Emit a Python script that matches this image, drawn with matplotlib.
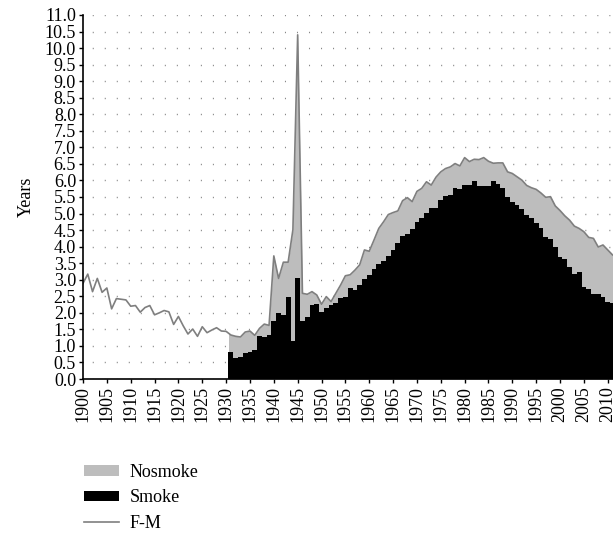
import numpy as np
import matplotlib
matplotlib.use("Agg")
import matplotlib.pyplot as plt
from matplotlib.patches import Patch
from matplotlib.lines import Line2D

# F-M gap in life expectancy, 1900-2011
fm_years = list(range(1900, 2012))
fm = [2.89, 3.17, 2.64, 3.04, 2.62, 2.75, 2.12, 2.43, 2.41, 2.39,
      2.20, 2.22, 2.02, 2.16, 2.22, 1.94, 2.00, 2.07, 2.03, 1.65,
      1.89, 1.61, 1.36, 1.51, 1.29, 1.58, 1.40, 1.48, 1.55, 1.45,
      1.44, 1.33, 1.29, 1.27, 1.42, 1.45, 1.32, 1.53, 1.66, 1.62,
      3.72, 3.04, 3.53, 3.53, 4.51, 10.40, 2.59, 2.56, 2.64, 2.54,
      2.26, 2.49, 2.34, 2.59, 2.84, 3.12, 3.15, 3.29, 3.45, 3.90,
      3.86, 4.20, 4.55, 4.75, 4.97, 5.03, 5.08, 5.39, 5.48, 5.36,
      5.67, 5.76, 5.96, 5.86, 6.10, 6.26, 6.36, 6.41, 6.51, 6.44,
      6.69, 6.57, 6.64, 6.63, 6.69, 6.58, 6.52, 6.53, 6.53, 6.26,
      6.21, 6.11, 6.01, 5.85, 5.78, 5.73, 5.62, 5.49, 5.51, 5.23,
      5.09, 4.93, 4.80, 4.62, 4.55, 4.45, 4.28, 4.25, 3.99, 4.05,
      3.90, 3.75]

# smoking-attributable part, 1931-2011
smoke_years = list(range(1931, 2012))
smoke = [0.81, 0.64, 0.67, 0.78, 0.83, 0.88, 1.30, 1.26, 1.33,
         1.76, 2.00, 1.93, 2.47, 1.16, 3.04, 1.76, 1.87, 2.25, 2.26,
         2.04, 2.14, 2.24, 2.29, 2.46, 2.47, 2.76, 2.69, 2.84, 3.01,
         3.14, 3.33, 3.48, 3.56, 3.73, 3.89, 4.12, 4.32, 4.38, 4.52,
         4.73, 4.88, 5.02, 5.18, 5.18, 5.41, 5.53, 5.56, 5.78, 5.74,
         5.87, 5.87, 5.97, 5.82, 5.82, 5.83, 5.97, 5.88, 5.76, 5.51,
         5.36, 5.26, 5.13, 4.95, 4.88, 4.70, 4.55, 4.28, 4.22, 4.00,
         3.70, 3.63, 3.37, 3.16, 3.22, 2.77, 2.71, 2.57, 2.56, 2.49,
         2.34, 2.30]

xticks = list(range(1900, 2011, 5))

plt.rcParams['font.family'] = ['Liberation Serif', 'DejaVu Serif']

fig = plt.figure(figsize=(6.13, 5.33), dpi=100)
ax = fig.add_axes([0.1354, 0.2889, 0.8646, 0.683])

# Nosmoke area: gray fill under the F-M curve, starting at the first bar edge
fy = np.array(fm_years, dtype=float)
fv = np.array(fm)
start = smoke_years[0] - 0.5
xs = np.concatenate([[start], fy[fy > start]])
ys = np.interp(xs, fy, fv)
ax.fill_between(xs, 0, ys, color='#bdbdbd', linewidth=0, zorder=2)

# Smoke bars
ax.bar(smoke_years, smoke, width=1.0, color='black', linewidth=0, zorder=3)

# F-M line
ax.plot(fm_years, fm, color='#7f7f7f', linewidth=1.2, zorder=4)

ax.set_xlim(1900, 2011.1)
ax.set_ylim(0, 11)
ax.set_yticks(np.arange(0, 11.01, 0.5))
ax.set_yticklabels([f"{v:.1f}" for v in np.arange(0, 11.01, 0.5)])
ax.set_xticks(xticks)
ax.set_xticklabels([str(y) for y in xticks], rotation=90)
ax.tick_params(labelsize=13, length=3, width=1, direction='out', pad=2)
ax.set_ylabel('Years', fontsize=13, labelpad=7)

ax.yaxis.grid(True, color='#888888', linewidth=1.0, linestyle=(2, (0.75, 7.9)), zorder=1)
ax.set_axisbelow(True)
for s in ['top', 'right']:
    ax.spines[s].set_visible(False)
for s in ['left', 'bottom']:
    ax.spines[s].set_linewidth(1.2)
    ax.spines[s].set_zorder(5)

handles = [Patch(facecolor='#bdbdbd', edgecolor='none'),
           Patch(facecolor='black', edgecolor='none'),
           Line2D([0], [0], color='#7f7f7f', linewidth=1.2)]
fig.legend(handles, ['Nosmoke', 'Smoke', 'F-M'], loc='upper left',
           bbox_to_anchor=(0.125, 0.143), frameon=False, fontsize=13,
           handlelength=1.95, handleheight=0.5, labelspacing=0.47,
           handletextpad=0.6, borderaxespad=0)

fig.savefig('out.png', dpi=100)
